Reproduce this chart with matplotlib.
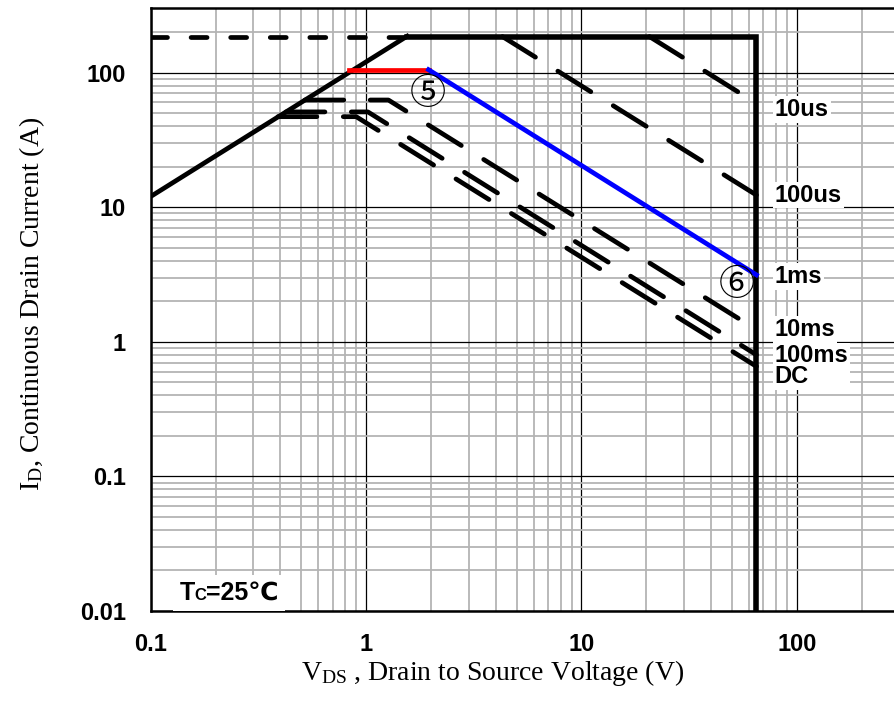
import numpy as np
import matplotlib
matplotlib.use("Agg")
import matplotlib.pyplot as plt
from matplotlib.ticker import FixedLocator, FixedFormatter, LogLocator, NullFormatter
from matplotlib.offsetbox import TextArea, HPacker, AnchoredOffsetbox

plt.rcParams["lines.scale_dashes"] = False
plt.rcParams["mathtext.fontset"] = "custom"
plt.rcParams["mathtext.rm"] = "Liberation Serif"
plt.rcParams["mathtext.it"] = "Liberation Serif:italic"

# safe operating area limits (V, A)
rds_v = [0.1, 1.55]
rds_i = [12.0, 186.0]
pkg_dash_v = [0.1, 1.55]
pkg_dash_i = [185.0, 185.0]
box_v = [1.55, 65.0, 65.0]
box_i = [185.0, 185.0, 0.01]

us10_v = [20.7, 65.0]
us10_i = [185.0, 59.0]
us100_v = [4.3, 65.0]
us100_i = [185.0, 12.3]
ms1_red_v = [0.83, 1.95]
ms1_red_i = [105.0, 105.0]
ms1_blue_v = [1.95, 65.0]
ms1_blue_i = [105.0, 3.14]
ms10_v = [0.52, 1.27, 65.0]
ms10_i = [62.5, 62.5, 1.23]
ms100_v = [0.425, 1.02, 65.0]
ms100_i = [51.0, 51.0, 0.80]
dc_v = [0.39, 0.9, 65.0]
dc_i = [47.0, 47.0, 0.656]

# curve names on the right; the last two share one text block
curve_labels = ["10us", "100us", "1ms", "10ms", "100ms\nDC"]
label_i = [52.8, 12.3, 3.05, 1.23, 0.66]
label_v = 79.0

xticks = [0.1, 1, 10, 100]
yticks = [0.01, 0.1, 1, 10, 100]

fig = plt.figure(figsize=(8.95, 7.04), dpi=100)
ax = fig.add_axes([0.1684, 0.1321, 0.8316, 0.8561])
ax.set_xscale("log")
ax.set_yscale("log")
ax.set_xlim(0.1, 286)
ax.set_ylim(0.01, 300)

ax.grid(which="minor", color="#b4b4b4", lw=1.3, zorder=0)
ax.grid(which="major", color="black", lw=0.9, zorder=0.5)
ax.set_axisbelow(True)
ax.xaxis.set_minor_locator(LogLocator(base=10, subs=np.arange(2, 10)))
ax.yaxis.set_minor_locator(LogLocator(base=10, subs=np.arange(2, 10)))
ax.xaxis.set_minor_formatter(NullFormatter())
ax.yaxis.set_minor_formatter(NullFormatter())
ax.xaxis.set_major_locator(FixedLocator(xticks))
ax.xaxis.set_major_formatter(FixedFormatter(["%g" % t for t in xticks]))
ax.yaxis.set_major_locator(FixedLocator(yticks))
ax.yaxis.set_major_formatter(FixedFormatter(["%g" % t for t in yticks]))
ax.tick_params(which="both", length=0)
ax.tick_params(axis="y", pad=18)
ax.tick_params(axis="x", pad=16)
for lab in ax.get_xticklabels() + ax.get_yticklabels():
    lab.set_fontfamily("Liberation Sans")
    lab.set_fontweight("bold")
    lab.set_fontsize(17)

for s in ["left", "bottom", "top"]:
    ax.spines[s].set_linewidth(1.8)
ax.spines["right"].set_visible(False)

lw = 3.4
long_dash = (0, (28, 19))
ax.plot(rds_v, rds_i, color="black", lw=lw, zorder=3)
ax.plot(pkg_dash_v, pkg_dash_i, color="black", lw=lw, ls=(0, (11.5, 17)),
        dash_capstyle="round", zorder=3)
ax.plot(box_v, box_i, color="black", lw=lw + 0.6, zorder=3, solid_joinstyle="miter")
for v, i in [(us10_v, us10_i), (us100_v, us100_i), (ms10_v, ms10_i),
             (ms100_v, ms100_i), (dc_v, dc_i)]:
    ax.plot(v, i, color="black", lw=lw, ls=long_dash, dash_capstyle="round", zorder=3)
ax.plot(ms1_red_v, ms1_red_i, color="#ff0000", lw=lw, zorder=4)
ax.plot(ms1_blue_v, ms1_blue_i, color="#0000ff", lw=lw, zorder=4)

for name, yi in zip(curve_labels, label_i):
    ax.text(label_v, yi, name, fontsize=17, fontweight="bold", family="Liberation Sans",
            ha="left", va="center", multialignment="left", linespacing=0.85, zorder=5,
            bbox=dict(boxstyle="square,pad=0.08", fc="white", ec="none"))

circ_font = ["DejaVu Serif", "Noto Sans CJK JP", "DejaVu Sans"]
ax.text(1.93, 69, "\u2464", fontsize=26, ha="center", va="center",
        family=circ_font, zorder=5)
ax.text(52.5, 2.65, "\u2465", fontsize=26, ha="center", va="center",
        family=circ_font, zorder=5)

tc_parts = HPacker(children=[
    TextArea("T", textprops=dict(fontsize=18, fontweight="bold", family="Liberation Sans")),
    TextArea("C", textprops=dict(fontsize=12, fontweight="bold", family="Liberation Sans")),
    TextArea("=25\u2103", textprops=dict(fontsize=18, fontweight="bold",
                                           family=["Liberation Sans", "DejaVu Sans"])),
], align="baseline", pad=0, sep=0)
anchored = AnchoredOffsetbox(loc="lower left", child=tc_parts, pad=0.45, borderpad=0.0,
                             frameon=True, bbox_to_anchor=(0.03, 0.0),
                             bbox_transform=ax.transAxes)
anchored.patch.set_facecolor("white")
anchored.patch.set_edgecolor("none")
anchored.set_zorder(5)
ax.add_artist(anchored)

ax.set_xlabel(r"$\mathrm{V_{DS}}$ , Drain to Source Voltage (V)", fontsize=20,
              family="Liberation Serif", va="center")
ax.set_ylabel(r"$\mathrm{I_D}$, Continuous Drain Current (A)", fontsize=20,
              family="Liberation Serif", va="center")
ax.xaxis.set_label_coords(0.46, -0.103)
ax.yaxis.set_label_coords(-0.1595, 0.51)

fig.savefig("out.png", dpi=100)
